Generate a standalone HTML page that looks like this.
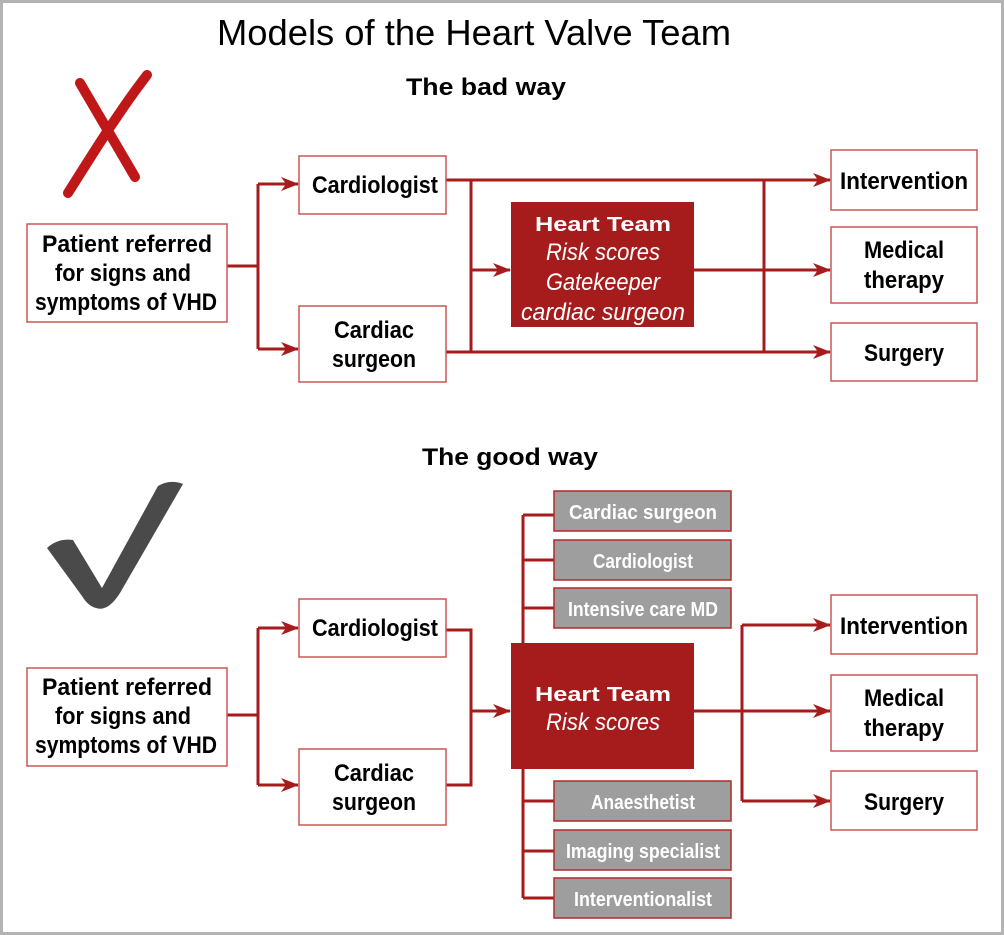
<!DOCTYPE html>
<html><head><meta charset="utf-8"><style>
html,body{margin:0;padding:0;background:#fff}
svg{display:block}
text{font-family:"Liberation Sans",sans-serif}
.b{font-weight:bold;font-size:24px;fill:#000}
.w{font-weight:bold;font-size:20px;fill:#fff}
.hi{font-style:italic;font-size:24px;fill:#fff}
</style></head><body>
<svg width="1004" height="935" viewBox="0 0 1004 935" xmlns="http://www.w3.org/2000/svg">
<defs>
<marker id="a" markerWidth="18" markerHeight="14" refX="17" refY="7" orient="auto" markerUnits="userSpaceOnUse" viewBox="0 0 18 14">
<path d="M0,0 L18,7 L0,14 L5,7 Z" fill="#a61c1c"/></marker>
</defs>
<rect x="1.5" y="1.5" width="1001" height="932" fill="#fff" stroke="#b3b3b3" stroke-width="3"/>
<text x="474" y="45" font-size="36" text-anchor="middle" textLength="514" lengthAdjust="spacingAndGlyphs">Models of the Heart Valve Team</text>
<text x="486" y="95" class="b" font-size="32" text-anchor="middle" textLength="160" lengthAdjust="spacingAndGlyphs">The bad way</text>
<text x="510" y="465" class="b" font-size="32" text-anchor="middle" textLength="176" lengthAdjust="spacingAndGlyphs">The good way</text>
<!-- X -->
<g stroke="#c01818" stroke-width="10" stroke-linecap="round" fill="none">
<path d="M80,83 L135,177"/>
<path d="M147,75 C120,110 95,150 68,193"/>
</g>
<!-- check -->
<path d="M47,548 Q58,538 73,540 L102,588 L158,486 Q170,479 183,484 L120,593 Q108,612 96,608 Q88,606 82,596 Z" fill="#4a4a4a"/>
<g fill="none" stroke="#a61c1c" stroke-width="3">
<path d="M227,266 H258 M258,184 V349"/>
<path d="M258,184 H298" marker-end="url(#a)"/>
<path d="M258,349 H298" marker-end="url(#a)"/>
<path d="M446,180 H830" marker-end="url(#a)"/>
<path d="M446,352 H830" marker-end="url(#a)"/>
<path d="M471,180 V352 M764,180 V352"/>
<path d="M471,270 H510" marker-end="url(#a)"/>
<path d="M694,270 H830" marker-end="url(#a)"/>
<path d="M227,715 H258 M258,628 V785"/>
<path d="M258,628 H298" marker-end="url(#a)"/>
<path d="M258,785 H298" marker-end="url(#a)"/>
<path d="M446,630 H471 V785 H446"/>
<path d="M471,711 H510" marker-end="url(#a)"/>
<path d="M523,515 V643 M523,769 V898"/>
<path d="M523,515 H554 M523,560 H554 M523,608 H554 M523,801 H554 M523,851 H554 M523,898 H554"/>
<path d="M694,711 H830" marker-end="url(#a)"/>
<path d="M742,625 V801"/>
<path d="M742,625 H830" marker-end="url(#a)"/>
<path d="M742,801 H830" marker-end="url(#a)"/>
</g>
<g fill="#fff" stroke="#c55" stroke-width="1.5">
<rect x="27" y="224" width="200" height="98"/>
<rect x="299" y="156" width="147" height="58"/>
<rect x="299" y="306" width="147" height="76"/>
<rect x="831" y="150" width="146" height="60"/>
<rect x="831" y="227" width="146" height="76"/>
<rect x="831" y="323" width="146" height="58"/>
<rect x="27" y="668" width="200" height="98"/>
<rect x="299" y="599" width="147" height="58"/>
<rect x="299" y="749" width="147" height="76"/>
<rect x="831" y="595" width="146" height="59"/>
<rect x="831" y="675" width="146" height="76"/>
<rect x="831" y="771" width="146" height="59"/>
</g>
<rect x="511" y="202" width="183" height="125" fill="#a61c1c"/>
<rect x="511" y="643" width="183" height="126" fill="#a61c1c"/>
<g fill="#9e9e9e" stroke="#b02a2a" stroke-width="1.5">
<rect x="554" y="491" width="177" height="40"/>
<rect x="554" y="540" width="177" height="40"/>
<rect x="554" y="588" width="177" height="40"/>
<rect x="554" y="781" width="177" height="40"/>
<rect x="554" y="830" width="177" height="40"/>
<rect x="554" y="878" width="177" height="40"/>
</g>
<g class="b" text-anchor="middle">
<text x="127" y="252" textLength="170" lengthAdjust="spacingAndGlyphs">Patient referred</text>
<text x="123" y="281" textLength="136" lengthAdjust="spacingAndGlyphs">for signs and</text>
<text x="126" y="310" textLength="182" lengthAdjust="spacingAndGlyphs">symptoms of VHD</text>
<text x="375" y="193" textLength="126" lengthAdjust="spacingAndGlyphs">Cardiologist</text>
<text x="374" y="338" textLength="80" lengthAdjust="spacingAndGlyphs">Cardiac</text>
<text x="374" y="367" textLength="84" lengthAdjust="spacingAndGlyphs">surgeon</text>
<text x="904" y="189" textLength="128" lengthAdjust="spacingAndGlyphs">Intervention</text>
<text x="904" y="258" textLength="80" lengthAdjust="spacingAndGlyphs">Medical</text>
<text x="904" y="288" textLength="80" lengthAdjust="spacingAndGlyphs">therapy</text>
<text x="904" y="361" textLength="80" lengthAdjust="spacingAndGlyphs">Surgery</text>
<text x="127" y="695" textLength="170" lengthAdjust="spacingAndGlyphs">Patient referred</text>
<text x="123" y="724" textLength="136" lengthAdjust="spacingAndGlyphs">for signs and</text>
<text x="126" y="753" textLength="182" lengthAdjust="spacingAndGlyphs">symptoms of VHD</text>
<text x="375" y="636" textLength="126" lengthAdjust="spacingAndGlyphs">Cardiologist</text>
<text x="374" y="781" textLength="80" lengthAdjust="spacingAndGlyphs">Cardiac</text>
<text x="374" y="810" textLength="84" lengthAdjust="spacingAndGlyphs">surgeon</text>
<text x="904" y="634" textLength="128" lengthAdjust="spacingAndGlyphs">Intervention</text>
<text x="904" y="706" textLength="80" lengthAdjust="spacingAndGlyphs">Medical</text>
<text x="904" y="736" textLength="80" lengthAdjust="spacingAndGlyphs">therapy</text>
<text x="904" y="810" textLength="80" lengthAdjust="spacingAndGlyphs">Surgery</text>
</g>
<g text-anchor="middle">
<text x="603" y="231" class="w" font-size="28" textLength="136" lengthAdjust="spacingAndGlyphs">Heart Team</text>
<text x="603" y="260" class="hi" textLength="114" lengthAdjust="spacingAndGlyphs">Risk scores</text>
<text x="603" y="290" class="hi" textLength="114" lengthAdjust="spacingAndGlyphs">Gatekeeper</text>
<text x="603" y="320" class="hi" textLength="164" lengthAdjust="spacingAndGlyphs">cardiac surgeon</text>
<text x="603" y="701" class="w" font-size="28" textLength="136" lengthAdjust="spacingAndGlyphs">Heart Team</text>
<text x="603" y="730" class="hi" textLength="114" lengthAdjust="spacingAndGlyphs">Risk scores</text>
</g>
<g class="w" text-anchor="middle">
<text x="643" y="519" textLength="148" lengthAdjust="spacingAndGlyphs">Cardiac surgeon</text>
<text x="643" y="568" textLength="100" lengthAdjust="spacingAndGlyphs">Cardiologist</text>
<text x="643" y="616" textLength="150" lengthAdjust="spacingAndGlyphs">Intensive care MD</text>
<text x="643" y="809" textLength="104" lengthAdjust="spacingAndGlyphs">Anaesthetist</text>
<text x="643" y="858" textLength="154" lengthAdjust="spacingAndGlyphs">Imaging specialist</text>
<text x="643" y="906" textLength="138" lengthAdjust="spacingAndGlyphs">Interventionalist</text>
</g>
</svg>
</body></html>
